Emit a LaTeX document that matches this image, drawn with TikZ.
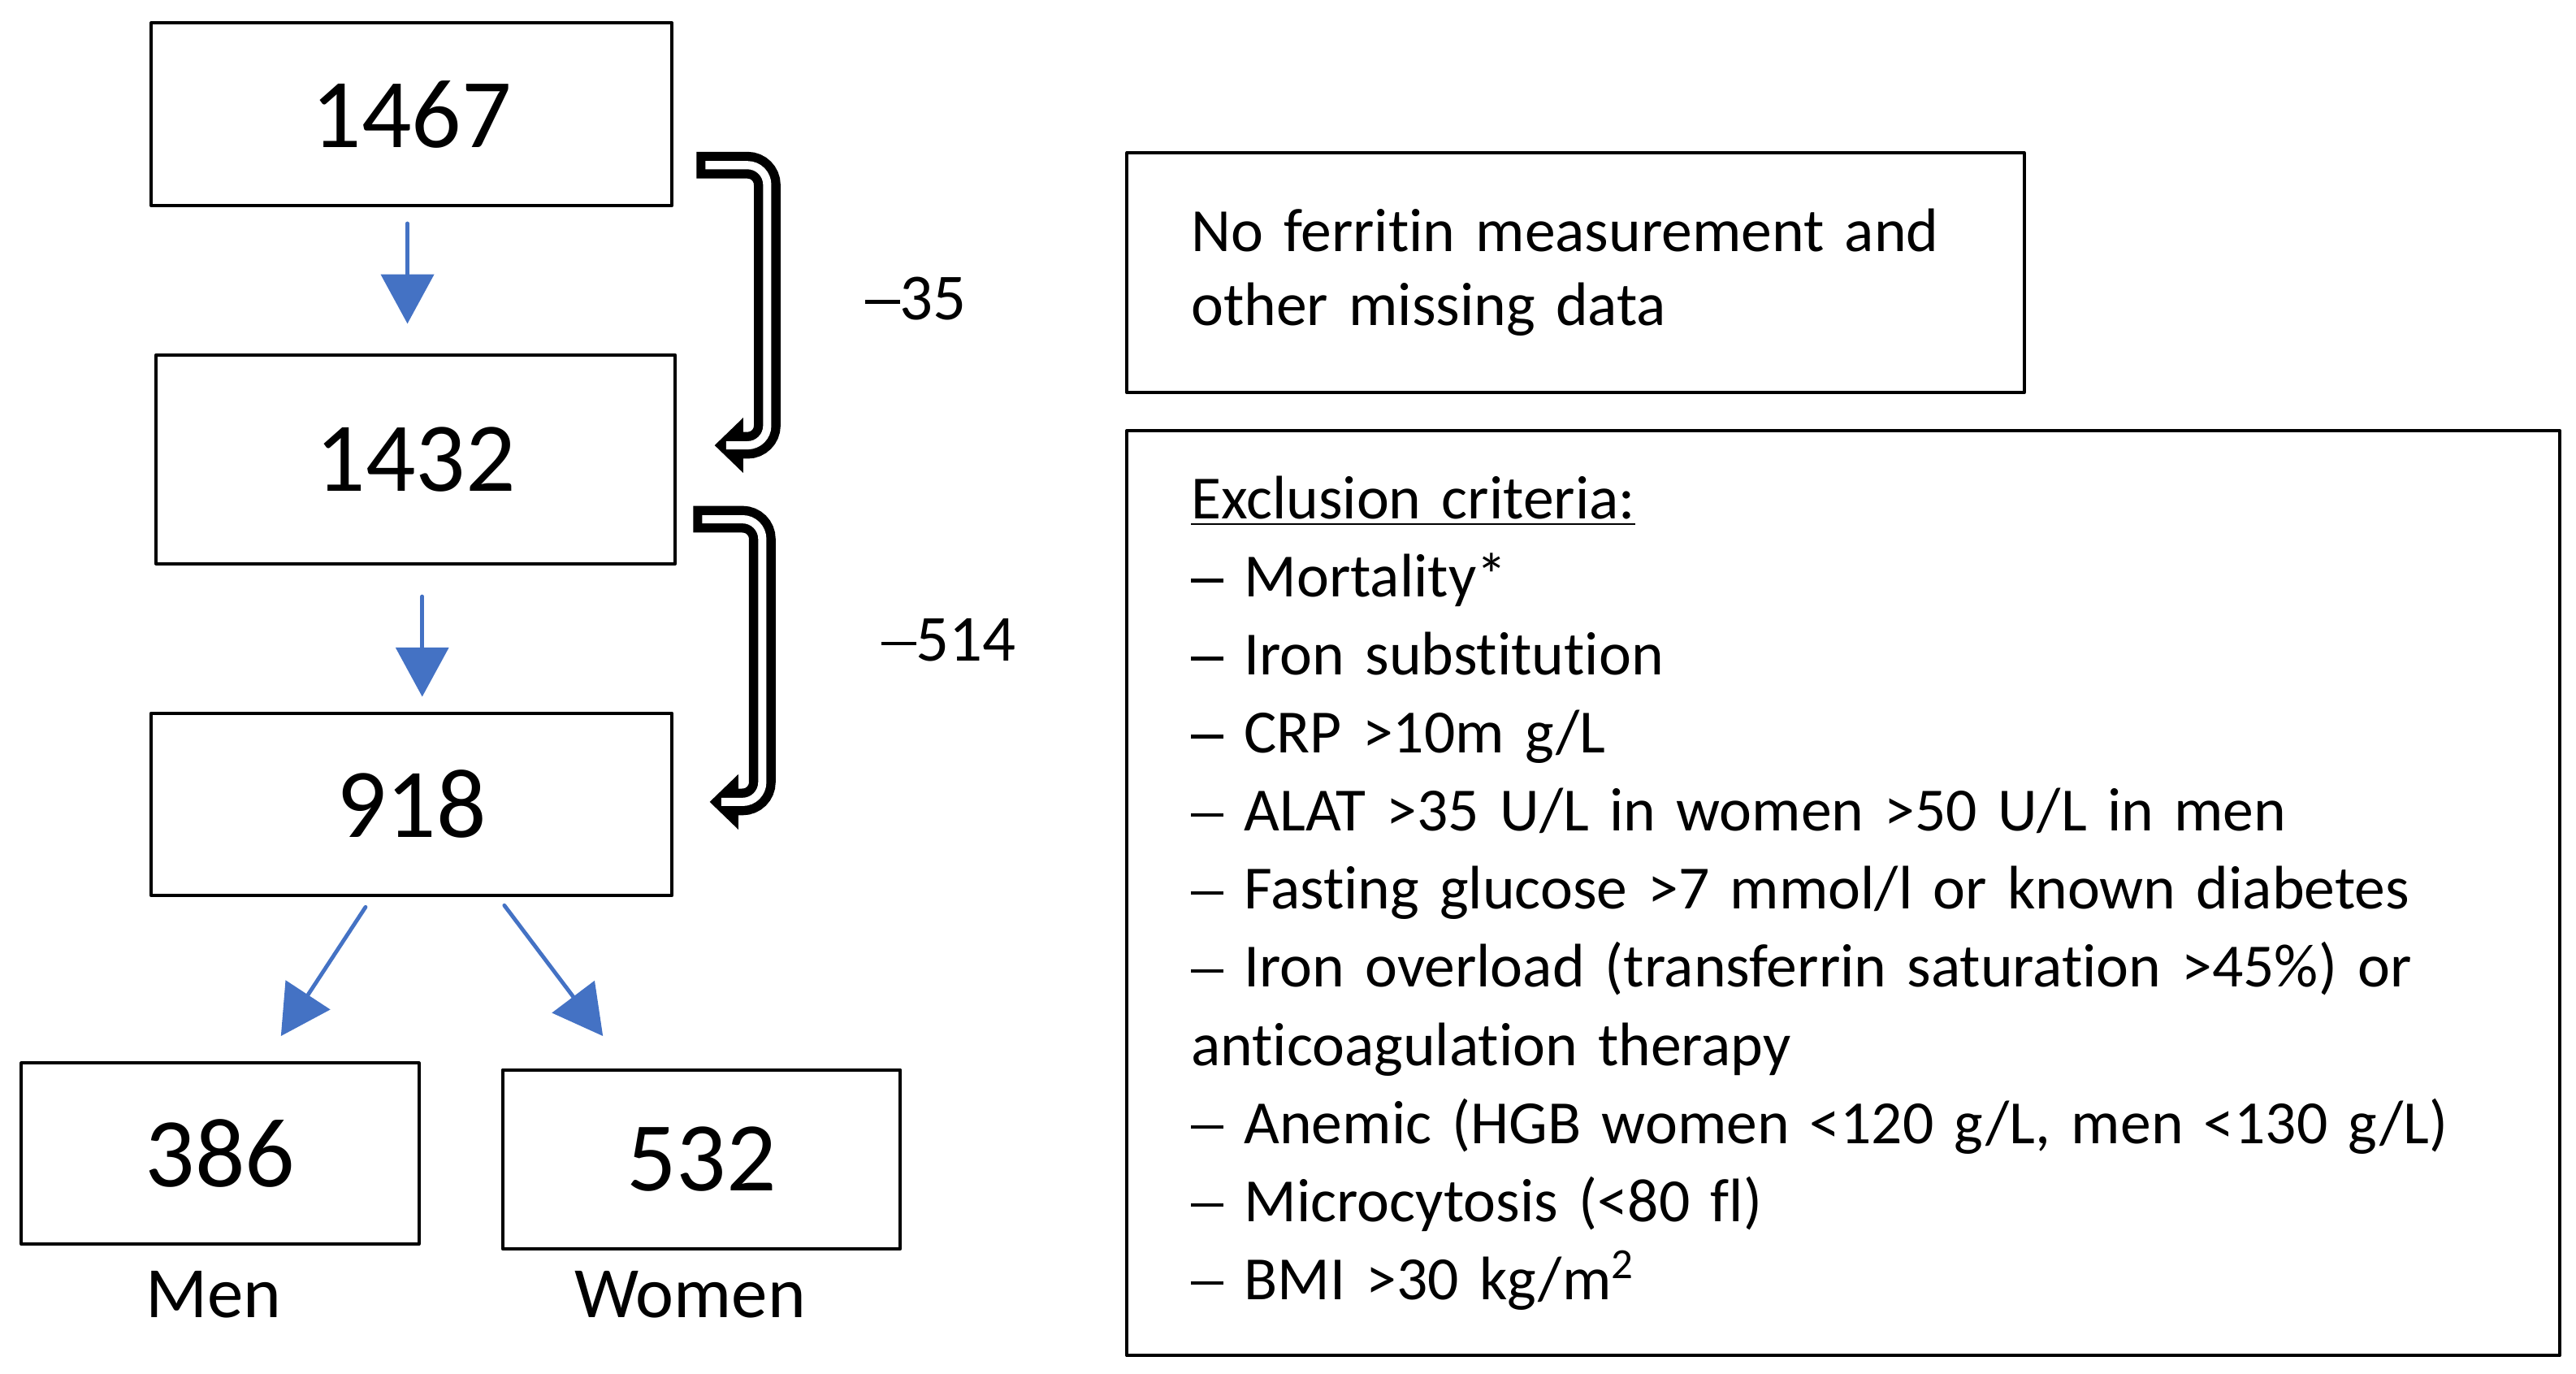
\documentclass[tikz,border=0pt]{standalone}
\usepackage{fontspec}
\setmainfont{Carlito}[Ligatures=NoCommon]
\usetikzlibrary{arrows.meta}
\usetikzlibrary{positioning}
\definecolor{arrowblue}{HTML}{4472C4}
\newcommand{\minusbar}{\rule[0.24em]{0.53em}{0.055em}}

\begin{document}
\begin{tikzpicture}[line cap=round,line join=round,>={Triangle[length=15pt,width=16pt]},x=0.5pt,y=-0.5pt,
  box/.style={draw,line width=1pt,inner sep=0pt,font=\fontsize{30}{36}\selectfont},
  note/.style={draw,line width=1pt,inner xsep=19.5pt,inner ysep=0pt,align=left},
  flow/.style={->,draw=arrowblue,fill=arrowblue,line width=1.2pt},
  uband/.style={line width=8.1pt,rounded corners=6pt,line cap=butt,line join=miter,-{Triangle[length=8.7pt,width=16.8pt,line width=0pt]}},
  uinner/.style={draw=white,line width=2.5pt,rounded corners=6pt,line cap=butt,shorten <=2.7pt,shorten >=3.5pt},
  lab/.style={font=\fontsize{22}{26}\selectfont},
  cut/.style={font=\fontsize{20}{24}\selectfont}]
\clip(0,0) rectangle (1568,836);
\node[box,minimum width=158.5pt,minimum height=55.5pt] (n1467) at (250.5,69.5) {1467};
\node[box,minimum width=158pt,minimum height=63.5pt] (n1432) at (253,279.5) {1432};
\node[box,minimum width=158.5pt,minimum height=55.5pt] (n918) at (250.5,489.5) {918};
\node[box,minimum width=121pt,minimum height=55pt] (n386) at (134,702) {386};
\node[box,minimum width=121pt,minimum height=54.5pt] (n532) at (427,705.5) {532};
\node[lab] (men) at (130,788) {Men};
\node[lab] (women) at (420,788) {Women};
\draw[flow] ([xshift=-1.25pt,yshift=-5pt]n1467.south) -- ([xshift=-2.5pt,yshift=9pt]n1432.north);
\draw[flow] ([xshift=2pt,yshift=-9.5pt]n1432.south) -- ([xshift=3.25pt,yshift=4.5pt]n918.north);
\draw[flow] ([xshift=-14pt,yshift=-3pt]n918.south) -- ([xshift=18.5pt,yshift=7.75pt]n386.north);
\draw[flow] ([xshift=28.25pt,yshift=-2.5pt]n918.south) -- ([xshift=-30pt,yshift=9.75pt]n532.north);
\draw[uband] ([shift={(7pt,-15.5pt)}]n1467.east) -- ++(21.5pt,0) |- ([shift={(11.5pt,4.25pt)}]n1432.east);
\draw[uinner] ([shift={(7pt,-15.5pt)}]n1467.east) -- ++(21.5pt,0) |- ([shift={(11.5pt,4.25pt)}]n1432.east);
\draw[uband] ([shift={(5pt,-18.25pt)}]n1432.east) -- ++(21pt,0) |- ([shift={(11pt,0.75pt)}]n918.east);
\draw[uinner] ([shift={(5pt,-18.25pt)}]n1432.east) -- ++(21pt,0) |- ([shift={(11pt,0.75pt)}]n918.east);
\node[cut] (d35) at (557.5,181.5) {\minusbar35};
\node[cut] (d514) at (577.5,389.5) {\minusbar514};
\node[note,text width=234pt,minimum height=73pt,font=\fontsize{18.7}{22.5}\selectfont] (missing) at (959,166) {No ferritin measurement and\\other missing data};
\node[note,text width=397pt,minimum height=281.5pt,font=\fontsize{18.7}{23.75}\selectfont] (criteria) at (1122,543.5) {\underline{Exclusion criteria:}\\
\minusbar{} Mortality*\\
\minusbar{} Iron substitution\\
\minusbar{} CRP >10m g/L\\
\minusbar{} ALAT >35 U/L in women >50 U/L in men\\
\minusbar{} Fasting glucose >7 mmol/l or known diabetes\\
\minusbar{} Iron overload (transferrin saturation >45\%) or\\
anticoagulation therapy\\
\minusbar{} Anemic (HGB women <120 g/L, men <130 g/L)\\
\minusbar{} Microcytosis (<80 fl)\\
\minusbar{} BMI >30 kg/m\textsuperscript{2}};
\end{tikzpicture}
\end{document}
